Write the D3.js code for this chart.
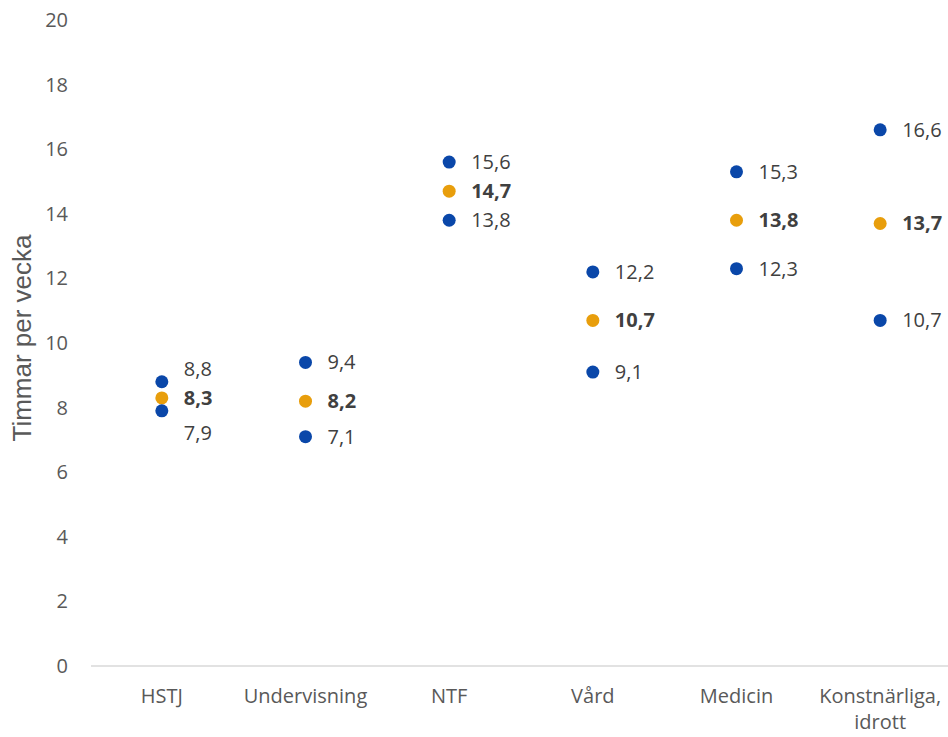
<!DOCTYPE html>
<html><head><meta charset="utf-8">
<script src="https://cdn.jsdelivr.net/npm/d3@7/dist/d3.min.js"></script>
<style>body{margin:0;background:#fff}</style>
</head><body>
<svg id="c" width="948" height="737"></svg>
<script>
const categories = ["HSTJ", "Undervisning", "NTF", "Vård", "Medicin", "Konstnärliga, idrott"];
const upperValues = [8.8, 9.4, 15.6, 12.2, 15.3, 16.6];
const meanValues  = [8.3, 8.2, 14.7, 10.7, 13.8, 13.7];
const lowerValues = [7.9, 7.1, 13.8, 9.1, 12.3, 10.7];
const yTicks = [0, 2, 4, 6, 8, 10, 12, 14, 16, 18, 20];

const svg = d3.select("#c");
const font = "'Open Sans', sans-serif";
const fs = 20;
const x = d3.scaleBand().domain(categories).range([90, 952]);
const y = d3.scaleLinear().domain([0, 20]).range([666, 20]);

// axis line
svg.append("line").attr("x1", 91).attr("x2", 948).attr("y1", y(0)).attr("y2", y(0))
  .attr("stroke", "#d9d9d9").attr("stroke-width", 1.3);

// y ticks
svg.append("g").selectAll("text").data(yTicks).join("text")
  .attr("x", 68).attr("y", d => y(d)).attr("dy", "0.35em")
  .attr("text-anchor", "end").attr("font-family", font).attr("font-size", fs)
  .attr("fill", "#595959").text(d => d);

// x labels (wrapped at spaces)
categories.forEach(d => {
  const parts = d.split(" ");
  parts.forEach((p, i) => svg.append("text")
    .attr("x", x(d) + x.bandwidth() / 2).attr("y", 696 + i * 26).attr("dy", "0.35em")
    .attr("text-anchor", "middle").attr("font-family", font).attr("font-size", fs)
    .attr("fill", "#595959").text(p));
});

// axis title
svg.append("text").attr("transform", `translate(31,${y(10) - 5}) rotate(-90)`)
  .attr("text-anchor", "middle").attr("font-family", "'Liberation Sans', Arial, sans-serif")
  .attr("font-size", 26).attr("fill", "#595959").text("Timmar per vecka");

const series = [
  {vals: upperValues, color: "#0a47a9", bold: false},
  {vals: meanValues, color: "#e89e0c", bold: true},
  {vals: lowerValues, color: "#0a47a9", bold: false}
];
const fmt = v => d3.format(".1f")(v).replace(".", ",");

categories.forEach((c, i) => {
  const cx = x(c) + x.bandwidth() / 2;
  const ys = series.map(s => y(s.vals[i]));
  const ly = ys.slice();
  if (ly[1] - ly[0] < 29) ly[0] = ly[1] - 29;
  if (ly[2] - ly[1] < 29) ly[2] = ly[1] + 35;
  series.forEach((s, k) => {
    svg.append("circle").attr("cx", cx).attr("cy", ys[k]).attr("r", 6.5).attr("fill", s.color);
    svg.append("text").attr("x", cx + 22).attr("y", ly[k]).attr("dy", "0.35em")
      .attr("font-family", font).attr("font-size", fs).attr("font-weight", s.bold ? "bold" : "normal")
      .attr("fill", "#404040").text(fmt(s.vals[i]));
  });
});
</script>
</body></html>
